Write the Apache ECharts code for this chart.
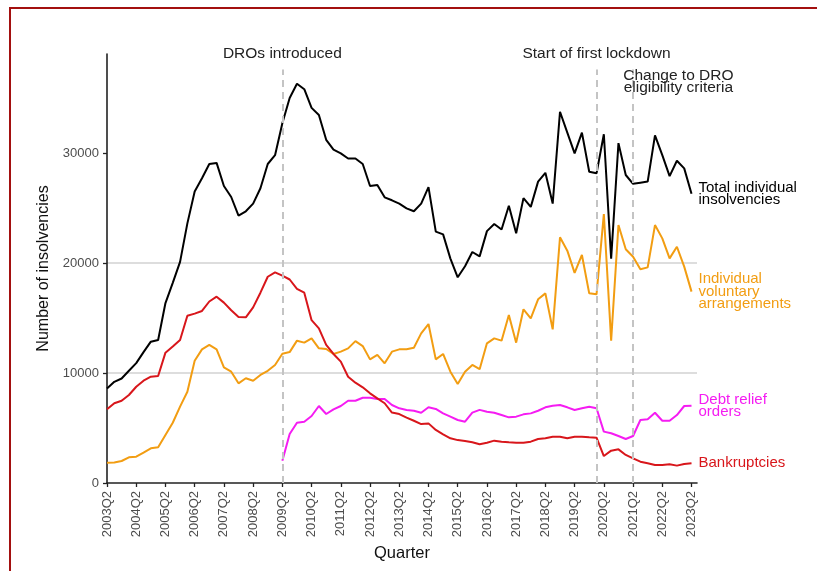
<!DOCTYPE html>
<html>
<head>
<meta charset="utf-8">
<script src="https://cdn.jsdelivr.net/npm/echarts@6/dist/echarts.min.js"></script>
<style>
  html, body { margin: 0; padding: 0; background: #fff; }
  #chart { width: 817px; height: 571px; }
  #frame { position: absolute; left: 9px; top: 7px; width: 830px; height: 590px;
           border-left: 2.5px solid #a3100f; border-top: 2.5px solid #a3100f; pointer-events: none; }
</style>
</head>
<body>
<div id="chart"></div>
<div id="frame"></div>
<script>
// quarters 2003Q2 .. 2023Q2
const quarters = [];
for (let y = 2003; y <= 2023; y++) {
  for (let q = 1; q <= 4; q++) {
    if ((y === 2003 && q < 2) || (y === 2023 && q > 2)) continue;
    quarters.push(y + 'Q' + q);
  }
}

const total = [8600, 9200, 9500, 10200, 10900, 11900, 12850, 13000, 16360, 18200,
  20100, 23600, 26500, 27700, 29000, 29100, 27000, 26000, 24300, 24700,
  25400, 26800, 29000, 29800, 32700, 35000, 36300, 35800, 34100, 33450,
  31200, 30300, 29970, 29500, 29500, 29000, 27000, 27100, 25970, 25700,
  25400, 24970, 24700, 25400, 26900, 22850, 22600, 20400, 18700, 19700,
  21000, 20600, 22900, 23550, 23050, 25200, 22700, 25900, 25100, 27400,
  28200, 25400, 33750, 31850, 29970, 31850, 28300, 28150, 31700, 20400,
  30900, 28000, 27200, 27300, 27400, 31600, 29800, 27900, 29300, 28600, 26300];

const iva = [1850, 1870, 2000, 2330, 2390, 2760, 3150, 3240, 4360, 5480,
  6940, 8300, 11120, 12150, 12550, 12150, 10520, 10120, 9060, 9520,
  9300, 9820, 10200, 10730, 11750, 11900, 12940, 12760, 13150, 12240,
  12180, 11730, 11940, 12240, 12900, 12450, 11240, 11640, 10880, 11940,
  12150, 12150, 12300, 13600, 14450, 11240, 11730, 10120, 9000, 10120,
  10730, 10350, 12700, 13150, 12940, 15270, 12760, 15790, 14970, 16700,
  17240, 13970, 22340, 21120, 19100, 20730, 17240, 17150, 24450, 12940,
  23450, 21250, 20570, 19430, 19600, 23450, 22240, 20420, 21480, 19670, 17400];

const droStart = 24; // DROs begin 2009Q2
const dro = [2030, 4450, 5480, 5570, 6090, 7000, 6270, 6700, 7000, 7480,
  7480, 7750, 7750, 7640, 7640, 7090, 6790, 6640, 6570, 6390,
  6880, 6730, 6330, 6030, 5730, 5570, 6400, 6650, 6480, 6390,
  6180, 5970, 6030, 6240, 6330, 6570, 6880, 7030, 7090, 6880,
  6640, 6790, 6940, 6790, 4670, 4520, 4270, 4000, 4270, 5730,
  5790, 6390, 5660, 5660, 6180, 7000, 7030];

const bankruptcies = [6700, 7250, 7480, 8000, 8750, 9300, 9660, 9730, 11850, 12400,
  13000, 15200, 15400, 15640, 16500, 16940, 16400, 15700, 15100, 15060,
  15970, 17300, 18750, 19150, 18850, 18500, 17650, 17300, 14800, 14060,
  12550, 11730, 11030, 9660, 9120, 8700, 8150, 7700, 7250, 6400,
  6270, 5940, 5660, 5360, 5420, 4820, 4420, 4060, 3900, 3820,
  3710, 3530, 3660, 3850, 3760, 3700, 3660, 3660, 3760, 4000,
  4060, 4210, 4210, 4060, 4210, 4210, 4150, 4120, 2450, 2940,
  3060, 2550, 2240, 1940, 1790, 1640, 1640, 1700, 1580, 1730, 1790];

const events = [24, 67, 72]; // 2009Q2, 2020Q1, 2021Q2
const eventLabels = ['DROs introduced', 'Start of first lockdown', 'Change to DRO\neligibility criteria'];

const yTicks = [0, 10000, 20000, 30000];
const xTicks = [];
for (let i = 0; i < quarters.length; i += 4) xTicks.push(i);

const pairs = (arr, start) => arr.map((v, i) => [i + (start || 0), v]);

const font = '"Liberation Sans", Arial, sans-serif';

function lineSeries(name, label, color, data, extra) {
  return Object.assign({
    name: name,
    type: 'line',
    data: data,
    symbol: 'none',
    lineStyle: { color: color, width: 2 },
    itemStyle: { color: color },
    endLabel: {
      show: true,
      formatter: label,
      color: color,
      fontFamily: font,
      fontSize: 15,
      lineHeight: 12.5,
      distance: 7
    },
    z: 3
  }, extra || {});
}

const chart = echarts.init(document.getElementById('chart'));
chart.setOption({
  animation: false,
  textStyle: { fontFamily: font },
  grid: { left: 107, right: 120, top: 54, bottom: 88 },
  xAxis: {
    type: 'value',
    min: 0,
    max: 80.75,
    name: 'Quarter',
    nameLocation: 'middle',
    nameGap: 60,
    nameTextStyle: { color: '#111', fontSize: 16.5, fontFamily: font },
    axisLine: { lineStyle: { color: '#222', width: 1.6 } },
    axisTick: { customValues: xTicks, length: 4, lineStyle: { color: '#222', width: 1.3 } },
    axisLabel: {
      customValues: xTicks,
      rotate: 90,
      margin: 8,
      color: '#4d4d4d',
      fontSize: 13,
      fontFamily: font,
      formatter: v => quarters[v] || ''
    },
    splitLine: { show: false }
  },
  yAxis: {
    type: 'value',
    min: 0,
    max: 39000,
    interval: 10000,
    name: 'Number of insolvencies',
    nameLocation: 'middle',
    nameGap: 45,
    nameTextStyle: { color: '#111', fontSize: 16, fontFamily: font },
    axisLine: { show: true, lineStyle: { color: '#222', width: 1.6 } },
    axisTick: { show: true, customValues: yTicks, length: 4, lineStyle: { color: '#222', width: 1.3 } },
    axisLabel: {
      customValues: yTicks,
      margin: 8,
      color: '#4d4d4d',
      fontSize: 13,
      fontFamily: font,
      formatter: v => String(v)
    },
    splitLine: { show: true, showMinLine: false, showMaxLine: false, lineStyle: { color: '#d2d2d2', width: 1.5 } }
  },
  series: [
    lineSeries('total', 'Total individual\ninsolvencies', '#000000', pairs(total), {
      markLine: {
        silent: true,
        symbol: 'none',
        label: { show: false },
        lineStyle: { color: '#c4c4c4', width: 2, type: [7, 5] },
        data: events.map(e => [{ coord: [e, 0] }, { coord: [e, 37600] }])
      },
      markPoint: {
        silent: true,
        symbol: 'circle',
        symbolSize: 0,
        label: {
          show: true,
          position: 'inside',
          color: '#222',
          fontSize: 15.5,
          lineHeight: 12,
          fontFamily: font
        },
        data: [
          { coord: [events[0], 39000], label: { formatter: eventLabels[0] } },
          { coord: [events[1], 39000], label: { formatter: eventLabels[1] } },
          { coord: [events[2] + 6.2, 36450], label: { formatter: eventLabels[2] } }
        ]
      }
    }),
    lineSeries('iva', 'Individual\nvoluntary\narrangements', '#f29d12', pairs(iva)),
    lineSeries('dro', 'Debt relief\norders', '#f51cf2', pairs(dro, droStart)),
    lineSeries('bankruptcies', 'Bankruptcies', '#d8161b', pairs(bankruptcies))
  ]
});
</script>
</body>
</html>
